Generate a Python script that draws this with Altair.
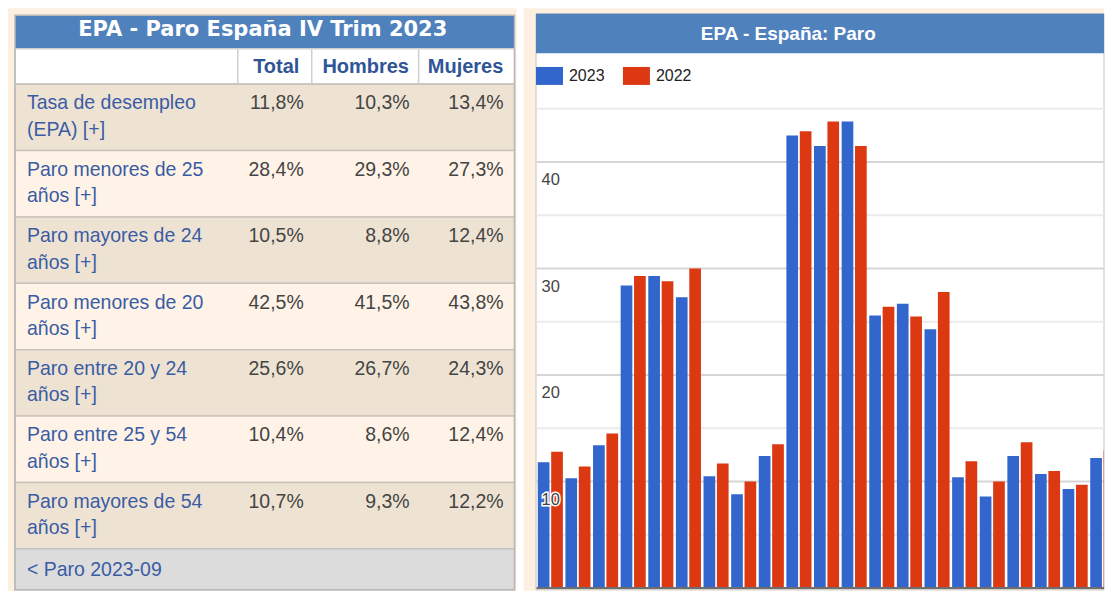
import altair as alt
import pandas as pd

# ---------------- data ----------------
TABLE_TITLE = "EPA - Paro España IV Trim 2023"
COLUMNS = ["Total", "Hombres", "Mujeres"]
ROW_LABELS = [
    "Tasa de desempleo\n(EPA) [+]",
    "Paro menores de 25\naños [+]",
    "Paro mayores de 24\naños [+]",
    "Paro menores de 20\naños [+]",
    "Paro entre 20 y 24\naños [+]",
    "Paro entre 25 y 54\naños [+]",
    "Paro mayores de 54\naños [+]",
]
TOTAL = [11.8, 28.4, 10.5, 42.5, 25.6, 10.4, 10.7]
HOMBRES = [10.3, 29.3, 8.8, 41.5, 26.7, 8.6, 9.3]
MUJERES = [13.4, 27.3, 12.4, 43.8, 24.3, 12.4, 12.2]
FOOTER = "< Paro 2023-09"

CHART_TITLE = "EPA - España: Paro"
YEARS = ["2023", "2022"]
SERIES_2022 = [12.8, 11.4, 14.5, 29.3, 28.8, 30.0, 11.7, 10.0, 13.5,
               42.9, 43.8, 41.5, 26.4, 25.5, 27.8, 11.9, 10.0, 13.7,
               11.0, 9.7, 12.9]
Y_TICKS = [10, 20, 30, 40]
GRID_MINOR = [5, 15, 25, 35, 45]

# ---------------- styles ----------------
SANS = "Liberation Sans, Arial, sans-serif"
WIDE = "DejaVu Sans, Verdana, sans-serif"
CREAM = "#fdf0e0"
ROW_DARK = "#eee3d3"
ROW_LIGHT = "#fef3e6"
BAND = "#4f81bd"
LINK = "#3a5ca4"
HEAD = "#2f5597"
VAL = "#444444"
W_A, W_B, H = 509, 581, 583

one = pd.DataFrame({"k": [0]})


def box(x, x2, y, y2, fill, stroke=None, sw=1.0, fo=1.0):
    kw = dict(fill=fill, fillOpacity=fo)
    if stroke:
        kw.update(stroke=stroke, strokeWidth=sw)
    return alt.Chart(one).mark_rect(**kw).encode(
        x=alt.value(x), x2=alt.value(x2), y=alt.value(y), y2=alt.value(y2))


def fmt(v):
    return f"{v:.1f}".replace(".", ",") + "%"


rows_df = pd.DataFrame({
    "row": list(range(len(ROW_LABELS))),
    "label": ROW_LABELS,
    "total": [fmt(v) for v in TOTAL],
    "hombres": [fmt(v) for v in HOMBRES],
    "mujeres": [fmt(v) for v in MUJERES],
    "shade": ["odd" if i % 2 == 0 else "even" for i in range(len(ROW_LABELS))],
})

row_scale = alt.Scale(domain=list(range(len(ROW_LABELS))), range=[76, 541],
                      paddingInner=0, paddingOuter=0)

# ---------------- panel A: table ----------------
layers_a = [
    box(7, 507, 7, 40, BAND),
    box(7, 507, 40.5, 75.5, "white", stroke="#cfcfcf", sw=1.5),
]
for xv in [230, 304, 411]:
    layers_a.append(alt.Chart(one).mark_rule(color="#cfcfcf", strokeWidth=1.5).encode(
        x=alt.value(xv), y=alt.value(41), y2=alt.value(75)))

layers_a.append(
    alt.Chart(rows_df).mark_rect(stroke="#cbc3ba", strokeWidth=1.5).encode(
        y=alt.Y("row:O", scale=row_scale, axis=None),
        x=alt.value(7), x2=alt.value(507),
        fill=alt.Fill("shade:N", scale=alt.Scale(domain=["odd", "even"], range=[ROW_DARK, ROW_LIGHT]),
                      legend=None),
    )
)
layers_a.append(box(7, 507, 541, 582, "#dcdcdc", stroke="#c4c4c4", sw=1.5))
layers_a.append(box(7, 507, 7, 582, "white", stroke="#b9b9b9", sw=1.5, fo=0))

layers_a.append(
    alt.Chart(pd.DataFrame({"t": [TABLE_TITLE]})).mark_text(
        font=WIDE, fontSize=21, fontWeight="bold", color="white",
        align="center", baseline="alphabetic").encode(
        x=alt.value(255), y=alt.value(28), text="t:N")
)
for name, xc in zip(COLUMNS, [268.5, 358, 458]):
    layers_a.append(
        alt.Chart(pd.DataFrame({"t": [name]})).mark_text(
            font=SANS, fontSize=20, fontWeight="bold", color=HEAD,
            align="center", baseline="alphabetic").encode(
            x=alt.value(xc), y=alt.value(64.7), text="t:N")
    )

layers_a.append(
    alt.Chart(rows_df).mark_text(
        font=SANS, fontSize=19.5, color=LINK, align="left", baseline="alphabetic",
        lineBreak="\n", lineHeight=26.5, dy=25.3).encode(
        y=alt.Y("row:O", scale=row_scale, axis=None, bandPosition=0),
        x=alt.value(19), text="label:N")
)
for field, xr in zip(["total", "hombres", "mujeres"], [296, 402, 496]):
    layers_a.append(
        alt.Chart(rows_df).mark_text(
            font=SANS, fontSize=19.5, color=VAL, align="right", baseline="alphabetic",
            dy=25.3).encode(
            y=alt.Y("row:O", scale=row_scale, axis=None, bandPosition=0),
            x=alt.value(xr), text=f"{field}:N")
    )
layers_a.append(
    alt.Chart(pd.DataFrame({"t": [FOOTER]})).mark_text(
        font=SANS, fontSize=19.5, color=LINK, align="left", baseline="alphabetic").encode(
        x=alt.value(19), y=alt.value(568.5), text="t:N")
)

panel_a = alt.layer(*layers_a).properties(width=W_A, height=H)

# ---------------- panel B: bar chart ----------------
cats, years, vals = [], [], []
k = 0
for i, lab in enumerate(ROW_LABELS):
    short = lab.replace("\n", " ").replace(" [+]", "")
    for col, arr in zip(COLUMNS, [TOTAL, HOMBRES, MUJERES]):
        c = f"{short} - {col}"
        cats.append(c); years.append("2023"); vals.append(arr[i])
        cats.append(c); years.append("2022"); vals.append(SERIES_2022[k])
        k += 1
bars_df = pd.DataFrame({"cat": cats, "year": years, "value": vals})
cat_domain = list(dict.fromkeys(cats))

y_scale = alt.Scale(domain=[0, 45], range=[580.3, 100.6], nice=False, zero=True)
x_scale = alt.Scale(domain=cat_domain, range=[13, 593.6], paddingInner=0.092, paddingOuter=0.046)

sym = "M-1,-0.667L1,-0.667L1,0.667L-1,0.667Z"
RIGHT = W_B

layers_b = [
    box(12.5, RIGHT, 5.5, 582, "white", stroke="#c3c3c3", sw=1),
    box(12.5, RIGHT, 5.5, 45, BAND),
    alt.Chart(pd.DataFrame({"t": [CHART_TITLE]})).mark_text(
        font=SANS, fontSize=19, fontWeight="bold", color="white",
        align="center", baseline="alphabetic").encode(
        x=alt.value(265), y=alt.value(31.5), text="t:N"),
    alt.Chart(pd.DataFrame({"v": GRID_MINOR})).mark_rule(color="#ebebeb", strokeWidth=2).encode(
        y=alt.Y("v:Q", scale=y_scale, axis=None), x=alt.value(13), x2=alt.value(RIGHT)),
    alt.Chart(pd.DataFrame({"v": Y_TICKS})).mark_rule(color="#d6d6d6", strokeWidth=2).encode(
        y=alt.Y("v:Q", scale=y_scale, axis=None), x=alt.value(13), x2=alt.value(RIGHT)),
    alt.Chart(bars_df).mark_bar(clip=True).encode(
        x=alt.X("cat:N", scale=x_scale, axis=None, sort=None),
        xOffset=alt.XOffset("year:N", scale=alt.Scale(domain=YEARS, paddingInner=0.127, paddingOuter=0)),
        y=alt.Y("value:Q", scale=y_scale, axis=None),
        color=alt.Color("year:N", scale=alt.Scale(domain=YEARS, range=["#3366cc", "#dc3912"]),
                        legend=alt.Legend(orient="none", legendX=12.5, legendY=54,
                                          direction="horizontal", title=None,
                                          symbolType=sym, symbolSize=729, symbolStrokeWidth=0,
                                          symbolOpacity=1, labelFont=SANS, labelFontSize=16,
                                          labelColor="#222222", labelOffset=6, columnPadding=18,
                                          padding=0)),
    ),
    alt.Chart(pd.DataFrame({"v": [0]})).mark_rule(color="#6e6e6e", strokeWidth=2).encode(
        y=alt.Y("v:Q", scale=y_scale, axis=None), x=alt.value(13), x2=alt.value(RIGHT)),
    alt.Chart(pd.DataFrame({"v": Y_TICKS})).mark_text(
        font=SANS, fontSize=16.5, color="white", stroke="white", strokeWidth=3,
        align="left", baseline="alphabetic", dy=23).encode(
        y=alt.Y("v:Q", scale=y_scale, axis=None), x=alt.value(18), text="v:Q"),
    alt.Chart(pd.DataFrame({"v": Y_TICKS})).mark_text(
        font=SANS, fontSize=16.5, color="#444444",
        align="left", baseline="alphabetic", dy=23).encode(
        y=alt.Y("v:Q", scale=y_scale, axis=None), x=alt.value(18), text="v:Q"),
]

panel_b = alt.layer(*layers_b).properties(width=W_B, height=H)

chart = (
    alt.hconcat(panel_a, panel_b, spacing=7, padding=0)
    .resolve_scale(x="independent", y="independent", color="independent", fill="independent")
    .properties(background="white")
    .configure_view(stroke=None, fill=CREAM)
)

chart.save("out.html", embed_options={"renderer": "svg", "actions": False})
